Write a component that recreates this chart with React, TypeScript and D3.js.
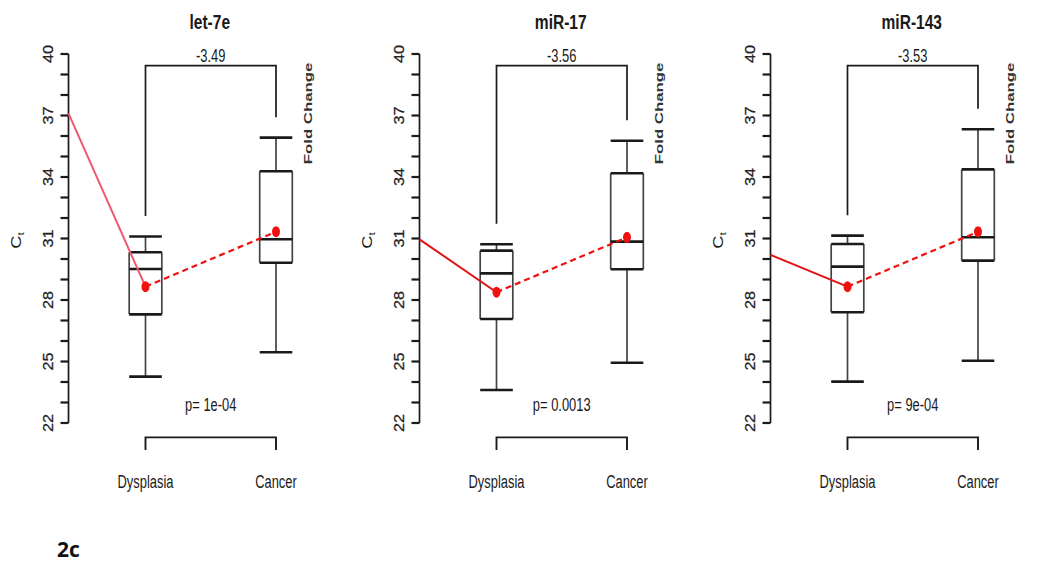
import React from "react";
import * as d3 from "d3";

const genes = ["let-7e", "miR-17", "miR-143"];
const groups = ["Dysplasia", "Cancer"];
const foldChanges = ["-3.49", "-3.56", "-3.53"];
const pValues = ["p= 1e-04", "p= 0.0013", "p= 9e-04"];
// [lower whisker, Q1, median, Q3, upper whisker]
const dysplasiaStats = [
  [24.26, 27.3, 29.51, 30.33, 31.1],
  [23.61, 27.07, 29.3, 30.41, 30.72],
  [24.02, 27.4, 29.63, 30.73, 31.14],
];
const cancerStats = [
  [25.45, 29.82, 30.96, 34.28, 35.92],
  [24.94, 29.5, 30.85, 34.18, 35.77],
  [25.04, 29.92, 31.06, 34.37, 36.33],
];
const dysplasiaMeans = [28.65, 28.38, 28.65];
const cancerMeans = [31.33, 31.06, 31.33];
const trendStartValues = [37.1, 30.96, 30.2];
const yTickValues = d3.range(22, 41, 1);
const yTickLabels = [22, 25, 28, 31, 34, 37, 40];

const W = 1050;
const H = 562;
const FONT = "'Liberation Sans', Arial, sans-serif";
const panelOffsets = [0, 351, 702];
const solidColors = ["#ef5a6b", "#e31212", "#e31212"];
const RED = "#f01010";
const INK = "#1a1a1a";

const y = d3.scaleLinear().domain([22, 40]).range([423, 54]);

function HText({ x, yy, children, size = 19, sx = 0.68, weight = "normal" }: any) {
  return (
    <g transform={`translate(${x},${yy}) scale(${sx},1)`}>
      <text textAnchor="middle" fontFamily={FONT} fontSize={size} fontWeight={weight} fill={INK}>
        {children}
      </text>
    </g>
  );
}

function Panel({ i }: { i: number }) {
  const off = panelOffsets[i];
  const x = d3.scaleLinear().domain([1, 2]).range([145.5 + off, 276 + off]);
  const axisX = x(0.41);
  const boxW = (x(2) - x(1)) * 0.25;
  const stats = [dysplasiaStats[i], cancerStats[i]];
  const means = [dysplasiaMeans[i], cancerMeans[i]];
  const midX = (x(1) + x(2)) / 2;
  const bracketTop = y(39.43);
  const solid = d3.line<[number, number]>().x((d) => d[0]).y((d) => d[1]);

  return (
    <g>
      {/* title */}
      <HText x={midX - 1} yy={29} size={21} sx={0.74} weight="bold">{genes[i]}</HText>

      {/* y axis */}
      <line x1={axisX} x2={axisX} y1={y(22)} y2={y(40)} stroke={INK} strokeWidth={1.7} />
      {yTickValues.map((t) => (
        <line key={t} x1={axisX - 8} x2={axisX} y1={y(t)} y2={y(t)} stroke={INK} strokeWidth={2.2} />
      ))}
      {yTickLabels.map((t) => (
        <g key={t} transform={`translate(${axisX - 16},${y(t)}) rotate(-90) scale(1.12,1)`}>
          <text textAnchor="middle" fontFamily={FONT} fontSize={14.5} fill="#222" stroke="#222" strokeWidth={0.25}>{t}</text>
        </g>
      ))}
      {/* Ct label */}
      <g transform={`translate(${axisX - 48},${y(30.9)}) rotate(-90) scale(1.3,1)`}>
        <text textAnchor="middle" fontFamily={FONT} fontSize={14} fill={INK}>
          C<tspan fontSize={9} dy={3}>t</tspan>
        </text>
      </g>

      {/* fold change bracket */}
      <path
        d={`M${x(1)},${y(stats[0][4] + 1)} V${bracketTop} H${x(2)} V${y(stats[1][4] + 1)}`}
        fill="none"
        stroke={INK}
        strokeWidth={1.7}
      />
      <HText x={midX} yy={61.5}>{foldChanges[i]}</HText>
      <g transform={`translate(${x(2) + 36},${y(37.1)}) rotate(-90) scale(1.6,1)`}>
        <text textAnchor="middle" fontFamily={FONT} fontSize={10.5} fontWeight="bold" fill="#333">
          Fold Change
        </text>
      </g>

      {/* boxes */}
      {stats.map((s, g) => {
        const cx = x(g + 1);
        const l = cx - boxW / 2;
        const r = cx + boxW / 2;
        return (
          <g key={g}>
            <line x1={cx} x2={cx} y1={y(s[0])} y2={y(s[1])} stroke="#444" strokeWidth={1.7} />
            <line x1={cx} x2={cx} y1={y(s[3])} y2={y(s[4])} stroke="#444" strokeWidth={1.7} />
            <line x1={l} x2={r} y1={y(s[0])} y2={y(s[0])} stroke={INK} strokeWidth={2.6} />
            <line x1={l} x2={r} y1={y(s[4])} y2={y(s[4])} stroke={INK} strokeWidth={2.6} />
            <line x1={l} x2={l} y1={y(s[1])} y2={y(s[3])} stroke="#444" strokeWidth={1.7} />
            <line x1={r} x2={r} y1={y(s[1])} y2={y(s[3])} stroke="#444" strokeWidth={1.7} />
            <line x1={l} x2={r} y1={y(s[1])} y2={y(s[1])} stroke={INK} strokeWidth={2.6} />
            <line x1={l} x2={r} y1={y(s[3])} y2={y(s[3])} stroke={INK} strokeWidth={2.6} />
            <line x1={l} x2={r} y1={y(s[2])} y2={y(s[2])} stroke={INK} strokeWidth={2.6} />
          </g>
        );
      })}

      {/* trend lines */}
      <path
        d={solid([[axisX, y(trendStartValues[i])], [x(1), y(means[0])]]) || ""}
        fill="none"
        stroke={solidColors[i]}
        strokeWidth={2}
      />
      <path
        d={solid([[x(1), y(means[0])], [x(2), y(means[1])]]) || ""}
        fill="none"
        stroke={RED}
        strokeWidth={2.2}
        strokeDasharray="6,4"
      />
      {means.map((m, g) => (
        <ellipse key={g} cx={x(g + 1)} cy={y(m)} rx={4} ry={5.5} fill={RED} />
      ))}

      {/* p-value bracket */}
      <HText x={midX} yy={411}>{pValues[i]}</HText>
      <path
        d={`M${x(1)},${y(20.68)} V${y(21.3)} H${x(2)} V${y(20.68)}`}
        fill="none"
        stroke={INK}
        strokeWidth={1.9}
      />
      {groups.map((gName, g) => (
        <HText key={gName} x={x(g + 1)} yy={487.5}>{gName}</HText>
      ))}
    </g>
  );
}

export default function App() {
  return (
    <svg
      width={W}
      height={H}
      viewBox={`0 0 ${W} ${H}`}
      style={{ position: "absolute", left: 0, top: 0, background: "#fff" }}
    >
      <rect width={W} height={H} fill="#fff" />
      {genes.map((g, i) => (
        <Panel key={g} i={i} />
      ))}
      <text x={57} y={557} fontFamily="'Open Sans', 'Noto Sans', sans-serif" fontWeight="bold" fontSize={21} fill="#111">
        2c
      </text>
    </svg>
  );
}
